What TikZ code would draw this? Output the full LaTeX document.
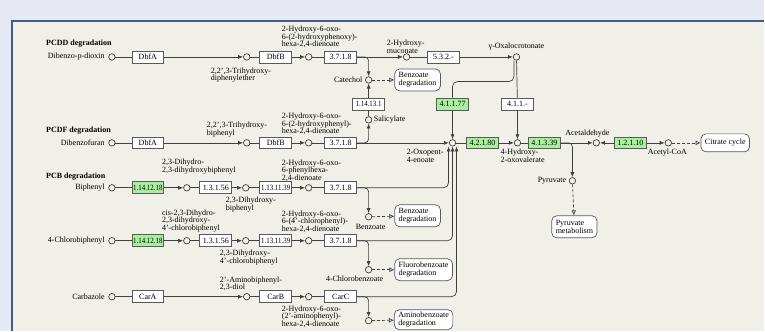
\documentclass[tikz,border=0pt]{standalone}
\usepackage{fontspec}
\setmainfont{Liberation Serif}
\usetikzlibrary{arrows.meta}
\definecolor{outerbg}{RGB}{230,233,242}
\definecolor{innerbg}{RGB}{240,240,232}
\definecolor{frameblue}{RGB}{62,92,140}
\definecolor{kgreen}{RGB}{170,238,160}
\newcommand{\narrow}[1]{\scalebox{0.86}[1]{#1}}
\begin{document}
\begin{tikzpicture}[x=1pt,y=-1pt,
    font=\fontsize{8}{7.6}\selectfont,
    cpd/.style={circle,draw=black!75,fill=innerbg,inner sep=0pt,minimum size=6.5pt,line width=0.7pt},
    enz/.style={draw=black!65,fill=white,minimum width=32pt,minimum height=12pt,inner sep=0pt,line width=0.7pt},
    ko/.style={enz,fill=kgreen},
    maplink/.style={draw=black!65,fill=white,rounded corners=5pt,align=left,inner xsep=4pt,inner ysep=2pt,minimum height=18pt,line width=0.7pt},
    lbl/.style={align=left,inner sep=0pt},
    ttl/.style={font=\fontsize{8}{8}\selectfont\bfseries,anchor=west,inner sep=0pt},
    ln/.style={draw=black!75,line width=0.7pt},
    rx/.style={ln,-{Latex[length=5pt,width=4pt]}},
    dx/.style={ln,dash pattern=on 3pt off 2pt,-{Latex[open,length=5pt,width=5pt]}}]
    % frame
    \fill[outerbg] (0,0) rectangle (765,331);
    \fill[innerbg] (12,21) rectangle (765,331);
    \draw[frameblue,line width=1.6pt] (12,331) -- (12,21) -- (765,21);
    \useasboundingbox (0,0) rectangle (765,331);

    \node[ttl] (tpcdd) at (46,44) {PCDD degradation};
    \node[ttl] (tpcdf) at (46,131) {PCDF degradation};
    \node[ttl] (tpcb) at (46,177) {PCB degradation};

    % starting compounds
    \foreach \n/\y/\t in {a/57/Dibenzo-p-dioxin,b/143/Dibenzofuran,c/188/Biphenyl,d/241/4-Chlorobiphenyl,e/297/Carbazole}{
        \node[cpd] (s\n) at (112,\y) {};
        \node[lbl,anchor=east] (ls\n) at (105,\y) {\t};
    }

    % PCDD
    \node[enz] (dbfa1) at (148,57) {DbfA};
    \node[cpd] (a1) at (247,57) {};
    \node[enz] (dbfb1) at (276,57) {DbfB};
    \node[cpd] (a2) at (309,57) {};
    \node[enz] (e3718a) at (341,57) {3.7.1.8};
    \node[cpd] (hmuc) at (407,57) {};
    \node[enz] (e532) at (444,57) {5.3.2.-};
    \node[cpd] (oxcr) at (517,57) {};
    \node[cpd] (catechol) at (369,80) {};
    \node[maplink,minimum height=22pt] (mbenz1) at (418,80) {Benzoate\\degradation};
    \node[enz] (e1141331) at (369,104) {\narrow{1.14.13.1}};
    \node[cpd] (salic) at (369,120) {};
    \node[ko] (e41177) at (453,104) {4.1.1.77};
    \node[enz] (e411) at (518,104) {4.1.1.-};

    % PCDF
    \node[enz] (dbfa2) at (148,143) {DbfA};
    \node[cpd] (b1) at (247,143) {};
    \node[enz] (dbfb2) at (276,143) {DbfB};
    \node[cpd] (b2) at (309,143) {};
    \node[enz] (e3718b) at (341,143) {3.7.1.8};
    \node[cpd] (oxpent) at (453,143) {};
    \node[ko] (e42180) at (483,143) {4.2.1.80};
    \node[cpd] (hoxv) at (518,143) {};
    \node[ko] (e41339) at (545,143) {4.1.3.39};
    \node[cpd] (acald) at (597,143) {};
    \node[ko] (e12110) at (631,143) {1.2.1.10};
    \node[cpd] (acoa) at (669,143) {};
    \node[maplink] (mcit) at (726,143) {Citrate cycle};
    \node[cpd] (pyr) at (573,181) {};
    \node[maplink,minimum height=22pt] (mpyr) at (575,227) {Pyruvate\\metabolism};

    % PCB
    \node[ko] (e1141218c) at (148,188) {\narrow{1.14.12.18}};
    \node[cpd] (c1) at (187,188) {};
    \node[enz] (e13156c) at (216,188) {1.3.1.56};
    \node[cpd] (c2) at (246,188) {};
    \node[enz] (e1131139c) at (276,188) {\narrow{1.13.11.39}};
    \node[cpd] (c3) at (309,188) {};
    \node[enz] (e3718c) at (341,188) {3.7.1.8};
    \node[cpd] (benzo) at (369,217) {};
    \node[maplink,minimum height=22pt] (mbenz2) at (418,216) {Benzoate\\degradation};

    % 4-chlorobiphenyl
    \node[ko] (e1141218d) at (148,241) {\narrow{1.14.12.18}};
    \node[cpd] (d1) at (187,241) {};
    \node[enz] (e13156d) at (216,241) {1.3.1.56};
    \node[cpd] (d2) at (246,241) {};
    \node[enz] (e1131139d) at (276,241) {\narrow{1.13.11.39}};
    \node[cpd] (d3) at (309,241) {};
    \node[enz] (e3718d) at (341,241) {3.7.1.8};
    \node[cpd] (clbenz) at (369,270) {};
    \node[maplink,minimum height=22pt] (mfluoro) at (424,270) {Fluorobenzoate\\degradation};

    % carbazole
    \node[enz] (cara) at (148,297) {CarA};
    \node[cpd] (e1) at (247,297) {};
    \node[enz] (carb) at (276,297) {CarB};
    \node[cpd] (e2) at (309,297) {};
    \node[enz] (carc) at (341,297) {CarC};
    \node[cpd] (abz) at (369,321) {};
    \node[maplink,minimum height=20pt,inner ysep=1pt] (mamino) at (424,320) {Aminobenzoate\\degradation};

    % compound labels
    \node[lbl,anchor=west] (la1) at (211,75) {2,2',3-Trihydroxy-\\diphenylether};
    \node[lbl,anchor=west] (la2) at (282,37) {2-Hydroxy-6-oxo-\\6-(2-hydroxyphenoxy)-\\hexa-2,4-dienoate};
    \node[lbl,anchor=west] (lhmuc) at (387,47) {2-Hydroxy-\\muconate};
    \node[lbl] (loxcr) at (517,47) {γ-Oxalocrotonate};
    \node[lbl,anchor=east] (lcat) at (363,80) {Catechol};
    \node[lbl,anchor=west] (lsal) at (374,120) {Salicylate};
    \node[lbl,anchor=west] (lb1) at (207,130) {2,2',3-Trihydroxy-\\biphenyl};
    \node[lbl,anchor=west] (lb2) at (282,124) {2-Hydroxy-6-oxo-\\6-(2-hydroxyphenyl)-\\hexa-2,4-dienoate};
    \node[lbl,anchor=west] (loxp) at (407,156) {2-Oxopent-\\4-enoate};
    \node[lbl,anchor=west] (lhoxv) at (501,156) {4-Hydroxy-\\2-oxovalerate};
    \node[lbl] (lacald) at (588,134) {Acetaldehyde};
    \node[lbl] (lacoa) at (668,153) {Acetyl-CoA};
    \node[lbl,anchor=east] (lpyr) at (567,181) {Pyruvate};
    \node[lbl,anchor=west] (lc1) at (162,167) {2,3-Dihydro-\\2,3-dihydroxybiphenyl};
    \node[lbl,anchor=west] (lc2) at (226,205) {2,3-Dihydroxy-\\biphenyl};
    \node[lbl,anchor=west] (lc3) at (282,171) {2-Hydroxy-6-oxo-\\6-phenylhexa-\\2,4-dienoate};
    \node[lbl] (lbenzo) at (371,227) {Benzoate};
    \node[lbl,anchor=west] (ld1) at (162,221) {cis-2,3-Dihydro-\\2,3-dihydroxy-\\4'-chlorobiphenyl};
    \node[lbl,anchor=west] (ld2) at (220,258) {2,3-Dihydroxy-\\4'-chlorobiphenyl};
    \node[lbl,anchor=west] (ld3) at (282,222) {2-Hydroxy-6-oxo-\\6-(4'-chlorophenyl)-\\hexa-2,4-dienoate};
    \node[lbl] (lclbenz) at (355,279) {4-Chlorobenzoate};
    \node[lbl,anchor=west] (le1) at (220,284) {2'-Aminobiphenyl-\\2,3-diol};
    \node[lbl,anchor=west] (le2) at (282,317) {2-Hydroxy-6-oxo-\\(2'-aminophenyl)-\\hexa-2,4-dienoate};

    % reactions
    \foreach \u/\v in {sa/dbfa1,a1/dbfb1,a2/e3718a,hmuc/e532,sb/dbfa2,b1/dbfb2,b2/e3718b,
        sc/e1141218c,c1/e13156c,c2/e1131139c,c3/e3718c,sd/e1141218d,d1/e13156d,d2/e1131139d,d3/e3718d,
        se/cara,e1/carb,e2/carc,salic/e1141331,oxcr/e411,oxpent/e42180,hoxv/e41339}
        \draw[ln] (\u) -- (\v);
    \foreach \u/\v in {dbfa1/a1,dbfb1/a2,e3718a/hmuc,e532/oxcr,dbfa2/b1,dbfb2/b2,e3718b/oxpent,
        e1141218c/c1,e13156c/c2,e1131139c/c3,e1141218d/d1,e13156d/d2,e1131139d/d3,
        cara/e1,carb/e2,e1141331/catechol,e41177/oxpent,e411/hoxv,e42180/hoxv,e41339/acald,
        e12110/acald,e12110/acoa}
        \draw[rx] (\u) -- (\v);
    \foreach \u/\v in {catechol/mbenz1,benzo/mbenz2,clbenz/mfluoro,abz/mamino,acoa/mcit,pyr/mpyr}
        \draw[dx] (\u) -- (\v);

    % branches
    \draw[rx,rounded corners=4pt] (e3718a.east) -| (catechol);
    \draw[rx,rounded corners=4pt] (e3718b.east) -| (salic);
    \draw[rx,rounded corners=4pt] (e3718c.east) -| (benzo);
    \draw[rx,rounded corners=4pt] (e3718d.east) -| (clbenz);
    \draw[rx,rounded corners=4pt] (carc.east) -| (abz);
    \draw[rx,rounded corners=4pt] (e41339.east) -| (pyr);
    \draw[ln,rounded corners=5pt] ([xshift=-2.5pt]oxcr.south) -- ++(0,21) -| (e41177.north);
    \draw[rx,rounded corners=5pt] (e3718c.east) -| ([xshift=-4pt]oxpent.south);
    \draw[rx,rounded corners=5pt] (e3718d.east) -| (oxpent.south);
    \draw[rx,rounded corners=5pt] (carc.east) -| ([xshift=4pt]oxpent.south);
\end{tikzpicture}
\end{document}
